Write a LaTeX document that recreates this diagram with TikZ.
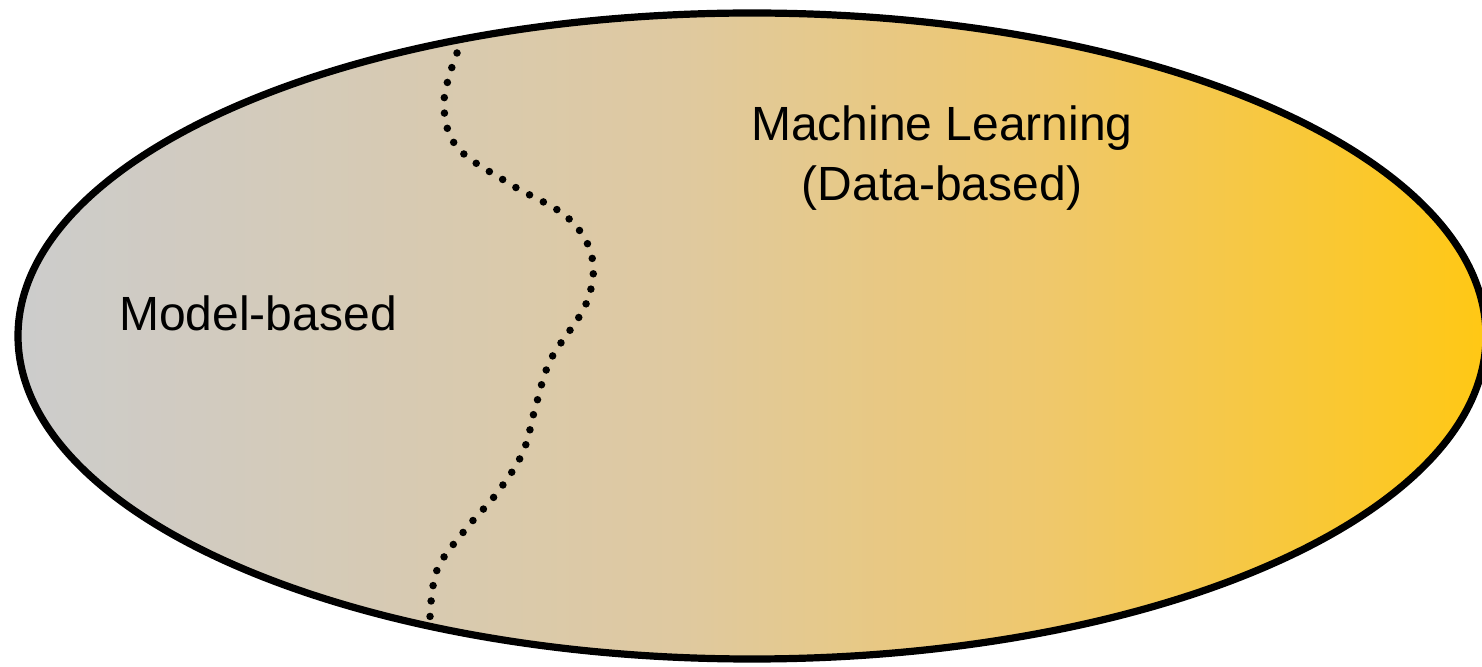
\documentclass[tikz,border=0pt]{standalone}
\usepackage{fontspec}
\setmainfont{Liberation Sans}
\definecolor{mlgray}{HTML}{CCCCCC}
\definecolor{mltanA}{HTML}{DFC9A0}
\definecolor{mltanB}{HTML}{EFC86C}
\definecolor{mlgold}{HTML}{FFC814}
% grey on the left fading through tan into gold on the right
\pgfdeclarehorizontalshading{mlgrad}{100bp}{color(0bp)=(mlgray); color(25bp)=(mlgray); color(47.5bp)=(mltanA); color(60bp)=(mltanB); color(75bp)=(mlgold); color(100bp)=(mlgold)}
\tikzset{
  field/.style={line width=3.6pt, draw=black, shading=mlgrad},
  divider/.style={line width=3.75pt, line cap=round, dash pattern=on 0pt off 7.75pt},
  label/.style={font=\fontsize{24}{30}\selectfont, align=center, inner sep=0pt}
}
\begin{document}
\begin{tikzpicture}[x=0.5pt,y=-0.5pt]
\useasboundingbox (0,0) rectangle (1482,667);
\clip (0,0) rectangle (1482,667);
% the whole field of approaches
\path[field] (752,336) ellipse [x radius=367pt, y radius=161.5pt];
% wavy border between the two regions
\draw[divider] plot[smooth, tension=0.6] coordinates {
  (457,53) (444,102) (457,147) (510,184) (567,217) (592,257)
  (586,304) (551,359) (536,405) (523,452) (497,493) (465,530)
  (437,570) (430,617)};
\node[label] (ml) at (942,158) {Machine Learning\\(Data-based)};
\node[label] (mb) at (258,313) {Model-based};
\end{tikzpicture}
\end{document}
